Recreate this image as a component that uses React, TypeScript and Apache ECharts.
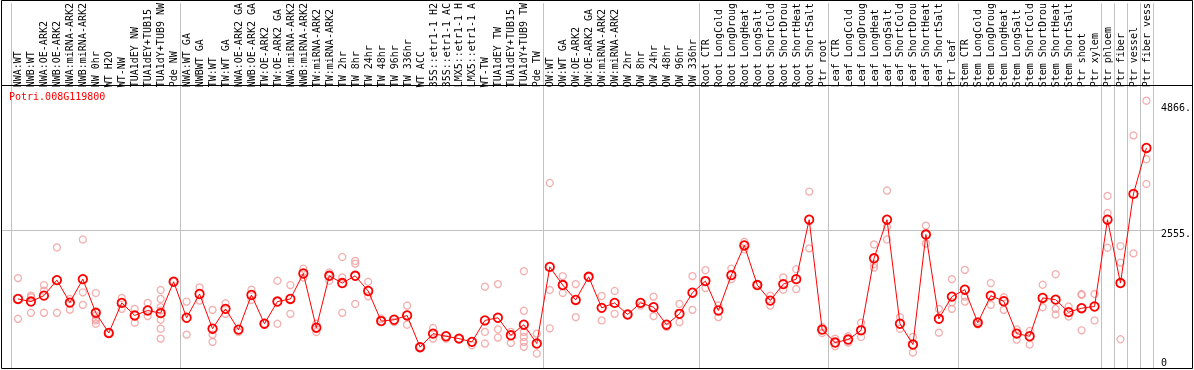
import React, { useEffect, useRef } from 'react';
import * as echarts from 'echarts';

const geneId = 'Potri.008G119800';

const categories: string[] = [
  'NWA:WT', 'NWB:WT', 'NWA:OE-ARK2', 'NWB:OE-ARK2', 'NWA:miRNA-ARK2', 'NWB:miRNA-ARK2', 'NW 0hr', 'WT H2O', 'WT-NW',
  'TUA1dEY NW', 'TUA1dEY+TUB15', 'TUA1dY+TUB9 NW', 'Pde NW',
  'NWA:WT GA', 'NWBWT GA', 'TW:WT', 'TW:WT GA', 'NWA:OE-ARK2 GA', 'NWB:OE-ARK2 GA', 'TW:OE-ARK2', 'TW:OE-ARK2 GA',
  'NWA:miRNA-ARK2', 'NWB:miRNA-ARK2', 'TW:miRNA-ARK2', 'TW:miRNA-ARK2', 'TW 2hr', 'TW 8hr', 'TW 24hr', 'TW 48hr',
  'TW 96hr', 'TW 336hr', 'WT ACC', '35S::etr1-1 H2', '35S::etr1-1 AC', 'LMX5::etr1-1 H', 'LMX5::etr1-1 A', 'WT-TW',
  'TUA1dEY TW', 'TUA1dEY+TUB15', 'TUA1dY+TUB9 TW', 'Pde TW',
  'OW:WT', 'OW:WT GA', 'OW:OE-ARK2', 'OW:OE-ARK2 GA', 'OW:miRNA-ARK2', 'OW:miRNA-ARK2', 'OW 2hr', 'OW 8hr',
  'OW 24hr', 'OW 48hr', 'OW 96hr', 'OW 336hr',
  'Root CTR', 'Root LongCold', 'Root LongDroug', 'Root LongHeat', 'Root LongSalt', 'Root ShortCold', 'Root ShortDrou',
  'Root ShortHeat', 'Root ShortSalt', 'Ptr root',
  'Leaf CTR', 'Leaf LongCold', 'Leaf LongDroug', 'Leaf LongHeat', 'Leaf LongSalt', 'Leaf ShortCold', 'Leaf ShortDrou',
  'Leaf ShortHeat', 'Leaf ShortSalt', 'Ptr leaf',
  'Stem CTR', 'Stem LongCold', 'Stem LongDroug', 'Stem LongHeat', 'Stem LongSalt', 'Stem ShortCold', 'Stem ShortDrou',
  'Stem ShortHeat', 'Stem ShortSalt', 'Ptr shoot', 'Ptr xylem',
  'Ptr phloem', 'Ptr fiber', 'Ptr vessel', 'Ptr fiber vess',
];

// index of the first category of each group (a grey separator line is drawn before it)
const groupStarts: number[] = [0, 13, 41, 53, 63, 73, 84, 85, 86, 87];

const means: number[] = [
  1196, 1145, 1261, 1565, 1125, 1584, 925, 530, 1119, 873, 970, 918, 1533,
  828, 1293, 614, 1002, 595, 1274, 711, 1145, 1196, 1694, 634, 1649, 1507, 1649, 1352, 763, 789,
  873, 252, 517, 466, 420, 356, 776, 828, 485, 692, 323,
  1824, 1468, 1177, 1630, 1022, 1119, 892, 1119, 1035, 692, 905, 1319,
  1546, 970, 1662, 2244, 1468, 1164, 1487, 1584, 2748, 595,
  343, 401, 582, 1992, 2748, 711, 304, 2457, 808, 1242,
  1377, 731, 1261, 1151, 517, 466, 1216, 1183, 938, 1015, 1048,
  2748, 1507, 3253, 4152,
];

const replicates: number[][] = [
  [1604, 808], [1261, 1229, 925], [1468, 1358, 925], [2205, 925], [1196, 989], [2360, 1326, 1080],
  [1313, 873, 808, 776, 711], [530], [1216, 1002], [1002, 731], [1119, 860],
  [1371, 1196, 1035, 970, 789, 614, 420], [1533],
  [1145, 498], [1423, 1164], [983, 498, 356], [1112, 905], [550], [1377, 1177], [711], [1552, 711],
  [1468, 905], [1791, 1617], [711, 550], [1714, 1552], [2018, 1617, 925], [1940, 1888, 1099], [1533, 1248],
  [808], [744], [1067, 692], [252], [627, 420], [420], [420], [291], [1436, 550, 323], [1487, 601, 440],
  [550, 336], [1740, 964, 550, 453, 356, 259], [517, 129],
  [3466, 1371, 621], [1643, 1313], [1487, 841], [1630], [1255, 776], [1352, 905], [892], [1067],
  [1242, 860], [647], [1099, 744], [1643, 983],
  [1759, 1410], [1067, 841], [1791, 1584], [2315, 2166], [1487], [1261, 1067], [1617, 1377], [1778, 1390],
  [3298, 2186], [647, 530],
  [420, 272], [466, 343], [731, 453], [2263, 1875, 1811], [3318, 2606, 2360], [841, 614], [453, 149],
  [2632, 2283], [1002, 537], [1584, 1132, 1002],
  [1765, 1242, 1145], [763, 698], [1507, 1080], [1229, 983], [601, 401], [569, 304], [1474, 1035],
  [1681, 1002, 892], [1048, 854], [1293, 1274, 582], [1293, 776],
  [3214, 2878, 2199], [2231, 1908, 407], [4398, 2089], [5077, 3932, 3447],
];

const yTickValues: number[] = [0, 2555, 4866];
const gridValue = 2555;

const MONO = '"DejaVu Sans Mono", "Liberation Mono", monospace';

export default function App() {
  const ref = useRef<HTMLDivElement>(null);

  useEffect(() => {
    if (!ref.current) return;
    const chart = echarts.init(ref.current, null, { renderer: 'svg' });

    const repData: number[][] = [];
    replicates.forEach((arr, i) => arr.forEach((v) => repData.push([i, v])));

    const richBase = { fontFamily: MONO, fontSize: 10, color: '#000000' };

    chart.setOption({
      animation: false,
      title: {
        text: geneId,
        left: 9,
        top: 91,
        padding: 0,
        textStyle: { color: '#ff0000', fontSize: 10, fontWeight: 'normal', fontFamily: MONO },
      },
      grid: { left: 11.5, right: 38.5, top: 0, bottom: 1, containLabel: false },
      xAxis: {
        type: 'category',
        data: categories,
        position: 'top',
        offset: -86,
        boundaryGap: true,
        axisLine: { show: false },
        axisTick: { show: false },
        axisLabel: {
          rotate: 90,
          interval: 0,
          margin: 2,
          fontFamily: MONO,
          fontSize: 10,
          color: '#000000',
        },
        splitLine: {
          show: true,
          interval: (idx: number) => groupStarts.includes(idx),
          lineStyle: { color: '#c0c0c0', width: 1 },
        },
      },
      yAxis: {
        type: 'value',
        position: 'right',
        min: -175,
        max: 6984,
        axisLine: { show: false },
        axisTick: { show: false },
        splitLine: { show: false },
        axisLabel: {
          customValues: yTickValues,
          formatter: (v: number) => {
            if (v === 0) return '{z|0}';
            if (v === yTickValues[1]) return '{dn|' + v + '.}';
            return '{up|' + v + '.}';
          },
          rich: {
            z: { ...richBase, padding: [4, 0, 0, 0] },
            dn: { ...richBase, padding: [8, 0, 0, 0] },
            up: { ...richBase, padding: [0, 0, 7, 0] },
          },
          margin: 8,
          fontFamily: MONO,
          fontSize: 10,
          color: '#000000',
        },
      },
      series: [
        {
          type: 'scatter',
          data: repData,
          symbol: 'circle',
          symbolSize: 7,
          itemStyle: { color: 'rgba(255,255,255,0)', borderColor: '#f09a9a', borderWidth: 1.3 },
          z: 2,
        },
        {
          type: 'line',
          data: means,
          symbol: 'circle',
          symbolSize: 8.5,
          showSymbol: true,
          lineStyle: { color: '#ff0000', width: 1 },
          itemStyle: { color: 'rgba(255,255,255,0)', borderColor: '#ff0000', borderWidth: 1.8 },
          z: 3,
        },
      ],
    });

    const yPx = Math.round(chart.convertToPixel({ yAxisIndex: 0 }, gridValue) as number) + 0.5;

    chart.setOption({
      graphic: [
        {
          type: 'line',
          z: 0,
          silent: true,
          shape: { x1: 1, y1: yPx, x2: 1163, y2: yPx },
          style: { stroke: '#c0c0c0', lineWidth: 1 },
        },
        {
          type: 'rect',
          z: 10,
          silent: true,
          shape: { x: 1.5, y: 0.5, width: 1191, height: 368 },
          style: { fill: 'none', stroke: '#000000', lineWidth: 1 },
        },
        {
          type: 'line',
          z: 10,
          silent: true,
          shape: { x1: 1, y1: 85.5, x2: 1193, y2: 85.5 },
          style: { stroke: '#000000', lineWidth: 1 },
        },
      ],
    });

    return () => chart.dispose();
  }, []);

  return (
    <div
      ref={ref}
      style={{ position: 'fixed', left: 0, top: 0, width: 1194, height: 370 }}
    />
  );
}
